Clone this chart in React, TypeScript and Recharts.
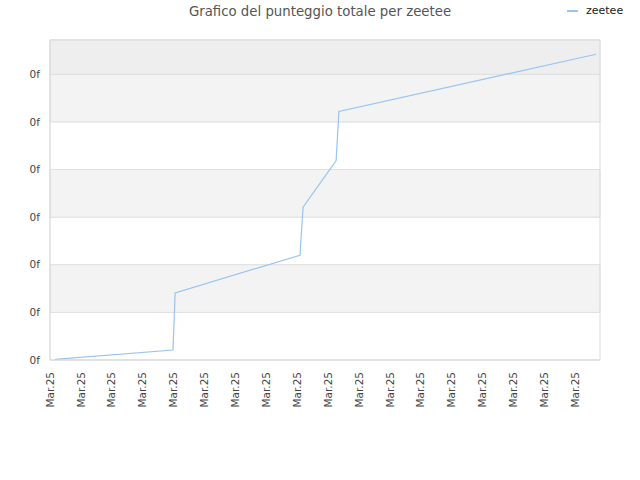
import { CartesianGrid, Line, LineChart, ReferenceArea, XAxis, YAxis } from 'recharts';

// x = position in the day sequence, y = score in grid units
const dayIndex = [0.16, 3.98, 4.05, 8.09, 8.19, 9.26, 9.35, 17.67];
const scores = [0.015, 0.21, 1.41, 2.2, 3.21, 4.19, 5.22, 6.42];

const xTicks = [0, 1, 2, 3, 4, 5, 6, 7, 8, 9, 10, 11, 12, 13, 14, 15, 16, 17];
const xTickLabel = 'Mar.25';
const yTicks = [0, 1, 2, 3, 4, 5, 6];
const yTickLabel = '0f';

const seriesName = 'zeetee';
const title = 'Grafico del punteggio totale per zeetee';

const X_MAX = 17.8;
const Y_MAX = 6.72;
const LINE_COLOR = '#99c4f2';
const GRID = '#e0e0e0';
const FONT = '"DejaVu Sans", Verdana, sans-serif';

const chartData = dayIndex.map((x, i) => ({ x, score: scores[i] }));

const bands = [
  { y1: 1, y2: 2, fill: '#f3f3f3' },
  { y1: 3, y2: 4, fill: '#f3f3f3' },
  { y1: 5, y2: 6, fill: '#f3f3f3' },
  { y1: 6, y2: Y_MAX, fill: '#eeeeee' },
];

function XTick({ x, y }: { x: number; y: number }) {
  return (
    <g transform={`translate(${x},${y + 12})`}>
      <text transform="rotate(-90)" textAnchor="end" dy="0.35em" fontSize={10.5} fill="#444" fontFamily={FONT}>
        {xTickLabel}
      </text>
    </g>
  );
}

export default function App() {
  return (
    <div style={{ position: 'absolute', left: 0, top: 0, width: 640, height: 480, background: '#fff' }}>
      <div
        style={{
          position: 'absolute',
          top: 4,
          width: 640,
          textAlign: 'center',
          fontFamily: FONT,
          fontSize: 13.3,
          color: '#555',
        }}
      >
        {title}
      </div>
      <div
        style={{
          position: 'absolute',
          top: 4,
          left: 567,
          display: 'flex',
          alignItems: 'center',
          fontFamily: FONT,
          fontSize: 11,
          color: '#222',
          zIndex: 2,
        }}
      >
        <span style={{ display: 'inline-block', width: 11, height: 2, background: LINE_COLOR, marginRight: 8 }} />
        {seriesName}
      </div>
      <LineChart width={640} height={480} data={chartData} margin={{ top: 40, right: 40, bottom: 0, left: 0 }}>
        {bands.map((b) => (
          <ReferenceArea key={b.y1} x1={0} x2={X_MAX} y1={b.y1} y2={b.y2} fill={b.fill} fillOpacity={1} stroke={GRID} />
        ))}
        <CartesianGrid vertical={false} stroke={GRID} />
        <ReferenceArea x1={0} x2={X_MAX} y1={0} y2={Y_MAX} fill="none" stroke="#dddddd" />
        <XAxis
          dataKey="x"
          type="number"
          domain={[0, X_MAX]}
          ticks={xTicks}
          height={120}
          tickLine={false}
          tickSize={0}
          tickMargin={0}
          axisLine={{ stroke: '#dddddd' }}
          tick={(p: any) => <XTick x={p.x} y={p.y} />}
          interval={0}
        />
        <YAxis
          type="number"
          domain={[0, Y_MAX]}
          ticks={yTicks}
          width={50}
          tickLine={false}
          tickSize={8}
          tickMargin={2}
          axisLine={{ stroke: '#dddddd' }}
          tickFormatter={() => yTickLabel}
          tick={{ fontSize: 10.5, fill: '#444', fontFamily: FONT }}
          interval={0}
        />
        <Line
          dataKey="score"
          name={seriesName}
          type="linear"
          stroke={LINE_COLOR}
          strokeWidth={1.2}
          dot={false}
          isAnimationActive={false}
        />
      </LineChart>
    </div>
  );
}
